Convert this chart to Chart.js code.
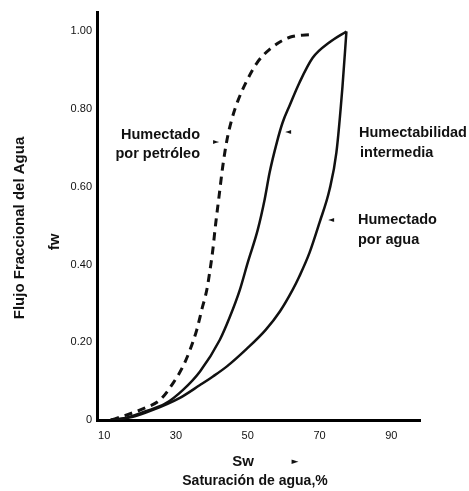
<!DOCTYPE html>
<html lang="es">
<head>
    <meta charset="UTF-8">
    <title>Flujo Fraccional del Agua</title>
    <script src="https://cdn.jsdelivr.net/npm/chart.js"></script>
    <style>
        html, body { margin: 0; padding: 0; background: #fff; }
        #wrap { width: 469px; height: 491px; }
    </style>
</head>
<body>
    <div id="wrap"><canvas id="chartFw"></canvas></div>

    <script>
        // Curvas de flujo fraccional (Sw en %, fw)
        const swPetroleo = [12, 21.4, 25.6, 29.2, 31.9, 33.9, 35.8, 37.2, 38.6, 39.4, 40.3, 41, 42, 43, 44.2, 45.6, 47.2, 49.7, 52.5, 56.1, 61.7, 68.1];
        const fwPetroleo = [0, 0.031, 0.052, 0.095, 0.137, 0.18, 0.232, 0.284, 0.335, 0.38, 0.44, 0.5, 0.575, 0.65, 0.72, 0.775, 0.82, 0.872, 0.918, 0.954, 0.985, 0.992];

        const swIntermedia = [11.7, 15.8, 21.4, 27, 31.9, 36.7, 42.2, 45, 47.8, 50, 52.8, 54.7, 56.1, 58.1, 59.7, 61.7, 64.4, 68.1, 72.8, 77.5];
        const fwIntermedia = [0, 0.005, 0.022, 0.042, 0.077, 0.125, 0.206, 0.265, 0.335, 0.405, 0.49, 0.567, 0.637, 0.714, 0.765, 0.81, 0.868, 0.932, 0.972, 1.0];

        const swAgua = [11.7, 18, 23.6, 31.1, 36.7, 40.3, 44.2, 49.7, 55, 59, 62.5, 64.4, 67.2, 70, 72.8, 74.7, 76.4, 77.5];
        const fwAgua = [0, 0.008, 0.026, 0.057, 0.09, 0.112, 0.138, 0.183, 0.232, 0.28, 0.335, 0.37, 0.43, 0.508, 0.593, 0.688, 0.858, 1.0];

        const xTicks = [10, 30, 50, 70, 90];
        const yTicks = [0, 0.2, 0.4, 0.6, 0.8, 1.0];

        const toPoints = (xs, ys) => xs.map((x, i) => ({ x: x, y: ys[i] }));

        // Textos del gráfico (títulos de ejes y etiquetas)
        const textos = {
            id: 'textos',
            afterDraw(chart) {
                const ctx = chart.ctx;
                ctx.save();
                ctx.fillStyle = '#111';
                ctx.textBaseline = 'middle';

                // título eje y
                ctx.save();
                ctx.translate(20, 228);
                ctx.rotate(-Math.PI / 2);
                ctx.textAlign = 'center';
                ctx.font = 'bold 15px "Liberation Sans", Arial, sans-serif';
                ctx.fillText('Flujo Fraccional del Agua', 0, 0);
                ctx.restore();

                ctx.save();
                ctx.translate(55, 242);
                ctx.rotate(-Math.PI / 2);
                ctx.textAlign = 'center';
                ctx.font = 'bold 15px "Liberation Sans", Arial, sans-serif';
                ctx.fillText('fw', 0, 0);
                ctx.restore();

                // título eje x
                ctx.font = 'bold 15px "Liberation Sans", Arial, sans-serif';
                ctx.textAlign = 'center';
                ctx.fillText('Sw', 243, 462);
                ctx.font = 'bold 14px "Liberation Sans", Arial, sans-serif';
                ctx.fillText('Saturación de agua,%', 255, 481);
                ctx.font = '9px "DejaVu Sans", sans-serif';
                ctx.fillText('►', 295, 462);

                // etiquetas de curvas
                ctx.font = 'bold 14.5px "Liberation Sans", Arial, sans-serif';
                ctx.textAlign = 'right';
                ctx.fillText('Humectado', 200, 135);
                ctx.fillText('por petróleo', 200, 154);
                ctx.textAlign = 'left';
                ctx.fillText('Humectabilidad', 359, 133);
                ctx.fillText('intermedia', 360, 153);
                ctx.fillText('Humectado', 358, 220);
                ctx.fillText('por agua', 358, 240);

                ctx.font = '8px "DejaVu Sans", sans-serif';
                ctx.textAlign = 'center';
                ctx.fillText('►', 216, 142);
                ctx.fillText('◄', 288, 132);
                ctx.fillText('◄', 331, 220);
                ctx.restore();
            }
        };

        const lineStyle = {
            showLine: true,
            borderColor: '#111',
            borderWidth: 2.5,
            pointRadius: 0,
            cubicInterpolationMode: 'monotone',
            fill: false
        };

        const ctx = document.getElementById('chartFw').getContext('2d');
        const chart = new Chart(ctx, {
            type: 'scatter',
            data: {
                datasets: [
                    Object.assign({ label: 'Humectado por petróleo', data: toPoints(swPetroleo, fwPetroleo), borderDash: [8, 6] }, lineStyle, { borderWidth: 3 }),
                    Object.assign({ label: 'Humectabilidad intermedia', data: toPoints(swIntermedia, fwIntermedia) }, lineStyle),
                    Object.assign({ label: 'Humectado por agua', data: toPoints(swAgua, fwAgua) }, lineStyle)
                ]
            },
            options: {
                responsive: true,
                maintainAspectRatio: false,
                animation: false,
                layout: { padding: { left: 0, top: 12, right: 49, bottom: 0 } },
                plugins: {
                    legend: { display: false },
                    tooltip: { enabled: false }
                },
                scales: {
                    x: {
                        type: 'linear',
                        min: 8,
                        max: 98,
                        grid: { display: false, drawTicks: false },
                        border: { display: true, width: 3, color: '#000' },
                        afterBuildTicks: (scale) => { scale.ticks = xTicks.map(v => ({ value: v })); },
                        afterFit: (scale) => { scale.height = 71; },
                        ticks: {
                            padding: 9,
                            color: '#111',
                            font: { family: '"Liberation Sans", Arial, sans-serif', size: 11 },
                            maxRotation: 0
                        }
                    },
                    y: {
                        type: 'linear',
                        min: 0,
                        max: 1.05,
                        grid: { display: false, drawTicks: false },
                        border: { display: true, width: 3, color: '#000' },
                        afterBuildTicks: (scale) => { scale.ticks = yTicks.map(v => ({ value: v })); },
                        afterFit: (scale) => { scale.width = 97; },
                        ticks: {
                            padding: 5,
                            color: '#111',
                            font: { family: '"Liberation Sans", Arial, sans-serif', size: 11 },
                            callback: (v) => v === 0 ? '0' : v.toFixed(2)
                        }
                    }
                }
            },
            plugins: [textos]
        });
    </script>
</body>
</html>
